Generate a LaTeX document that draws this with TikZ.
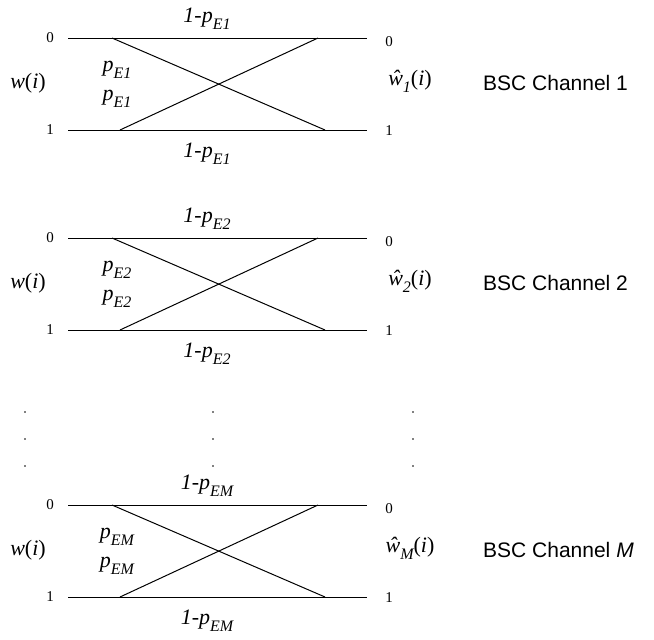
\documentclass[tikz,border=0pt]{standalone}
\usepackage{fontspec}
\setmainfont{Liberation Serif}
\newfontfamily\sansf{Liberation Sans}
\newcommand{\sbs}[1]{\raisebox{-0.7ex}{\fontsize{16}{16}\selectfont\itshape #1}}
\newcommand{\lmp}[1]{\textit{1-p}\sbs{#1}}
\newcommand{\pe}[1]{\textit{p}\sbs{#1}}
\begin{document}
\begin{tikzpicture}[x=1pt,y=-1pt,
  chan/.style={line width=1pt},
  big/.style={inner sep=0pt,font=\fontsize{22}{24}\selectfont},
  small/.style={inner sep=0pt,font=\fontsize{15}{16}\selectfont},
  bsc/.style={inner sep=0pt,anchor=west,font=\sansf\fontsize{21}{23}\selectfont},
  dot/.style={circle,fill=black,inner sep=0pt,minimum size=1.8pt}]
\useasboundingbox (0,0) rectangle (654,640);
\foreach \y/\s/\k/\lab in {38/E1/1/1, 238/E2/2/2, 505/EM/M/\textit{M}}{
  \coordinate (a0\k) at (68,\y);
  \coordinate (b0\k) at (367,\y);
  \coordinate (a1\k) at (68,\y+92);
  \coordinate (b1\k) at (367,\y+92);
  \coordinate (c0\k) at (112,\y);
  \coordinate (d1\k) at (325,\y+92);
  \coordinate (c1\k) at (120,\y+92);
  \coordinate (d0\k) at (318,\y);
  \draw[chan] (a0\k) -- (b0\k);
  \draw[chan] (a1\k) -- (b1\k);
  \draw[chan] (c0\k) -- (d1\k);
  \draw[chan] (c1\k) -- (d0\k);
  \node[small] (z0\k) at (50,\y) {0};
  \node[small] (z1\k) at (50,\y+92) {1};
  \node[small] (r0\k) at (389,\y+4) {0};
  \node[small] (r1\k) at (389,\y+93) {1};
  \node[big] (top\k) at (207,\y-19) {\lmp{\s}};
  \node[big] (bot\k) at (207,\y+116) {\lmp{\s}};
  \node[big] (pa\k) at (117,\y+32) {\pe{\s}};
  \node[big] (pb\k) at (117,\y+61) {\pe{\s}};
  \node[big] (w\k) at (28,\y+45) {\textit{w}(\textit{i})};
  \node[big] (wh\k) at (410,\y+43) {\textit{ŵ}\sbs{\k}(\textit{i})};
  \node[bsc] (ch\k) at (483,\y+45) {BSC Channel \lab};
}
\foreach \x/\c in {25/l,213/m,413/r}{
  \foreach \yy/\j in {412/1,439/2,466/3}{
    \node[dot] (dot\c\j) at (\x,\yy) {};
  }
}
\end{tikzpicture}
\end{document}
